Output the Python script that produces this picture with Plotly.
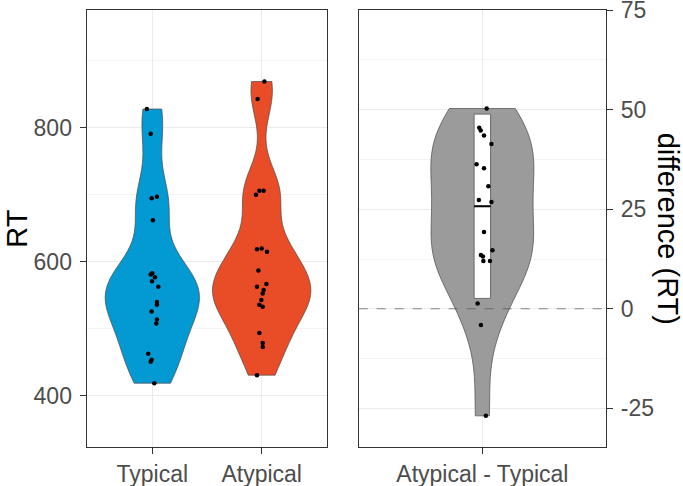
import numpy as np
import plotly.graph_objects as go

# ---------------- data ----------------
categories_left = ["Typical", "Atypical"]
category_right = ["Atypical - Typical"]

typical_rt = [828, 791, 697, 695, 662, 583, 581, 577, 571, 563,
              540, 536, 526, 514, 508, 463, 454, 451, 419]
typical_jitter = [-0.05, -0.015, 0.042, -0.006, 0.005, 0.0, -0.015, 0.024, -0.003, 0.055,
                  0.042, 0.042, -0.006, 0.042, 0.037, -0.037, -0.006, -0.015, 0.018]

atypical_rt = [869, 843, 706, 706, 700, 620, 619, 615, 587, 567,
               563, 558, 553, 543, 536, 533, 494, 479, 473, 431]
atypical_jitter = [0.025, -0.037, -0.021, 0.018, -0.052, 0.0, -0.043, 0.048, -0.030, 0.043,
                   -0.043, 0.018, 0.009, -0.003, -0.021, 0.009, -0.021, 0.009, 0.009, -0.043]

difference_rt = [50.3, 45.5, 44.8, 43.5, 41.4, 36.3, 35.3, 30.8, 27.3, 26.8,
                 19.3, 14.7, 13.5, 13.1, 12.0, 12.0, 1.3, -4.1, -26.9]
difference_jitter = [0.021, -0.015, -0.008, 0.008, 0.044, -0.028, 0.008, 0.029, -0.017, 0.044,
                     0.008, 0.049, -0.007, 0.003, 0.005, 0.037, -0.023, -0.007, 0.017]

# summary box drawn on the difference violin
diff_box_low = 2.6
diff_box_median = 25.75
diff_box_high = 48.9

left_ticks = [400, 600, 800]
right_ticks = [-25, 0, 25, 50, 75]
right_ticktext = ["-25", "0", "25", "50", "75"]
reference_value = 0

# ---------------- styling ----------------
BLUE = "#0399D3"
RED = "#E94D27"
GREY = "#9B9B9B"
OUTLINE = "#4a4a4a"
FONT = "Liberation Sans, Arial, sans-serif"

W, H = 683, 486
left_dom = [86.7 / W, 327.3 / W]
right_dom = [358.7 / W, 606.0 / W]
y_dom = [1 - 447.3 / H, 1 - 10.0 / H]


def nrd0(x):
    x = np.asarray(x, dtype=float)
    sd = np.std(x, ddof=1)
    q75, q25 = np.percentile(x, [75, 25])
    lo = min(sd, (q75 - q25) / 1.34)
    return 0.9 * lo * len(x) ** (-0.2)


def max_density(x, bw):
    x = np.asarray(x, dtype=float)
    grid = np.linspace(x.min(), x.max(), 512)
    d = np.exp(-0.5 * ((grid[:, None] - x[None, :]) / bw) ** 2).sum(axis=1)
    return d.max() / (len(x) * bw * np.sqrt(2 * np.pi))


bw_t = nrd0(typical_rt)
bw_a = nrd0(atypical_rt)
bw_d = nrd0(difference_rt)
md_t = max_density(typical_rt, bw_t)
md_a = max_density(atypical_rt, bw_a)
md_max = max(md_t, md_a)

fig = go.Figure()

for pos, vals, bw, md, col in [(1, typical_rt, bw_t, md_t, BLUE),
                               (2, atypical_rt, bw_a, md_a, RED)]:
    fig.add_trace(go.Violin(
        x0=pos, y=vals, xaxis="x", yaxis="y",
        fillcolor=col, line=dict(color=OUTLINE, width=0.7), opacity=1,
        bandwidth=bw, spanmode="hard", points=False,
        width=0.9 * md / md_max, scalemode="width",
        box_visible=False, meanline_visible=False, hoverinfo="skip",
    ))

fig.add_trace(go.Violin(
    x0=1, y=difference_rt, xaxis="x2", yaxis="y2",
    fillcolor=GREY, line=dict(color=OUTLINE, width=0.7), opacity=1,
    bandwidth=bw_d, spanmode="hard", points=False, width=0.5, scalemode="width",
    box_visible=False, meanline_visible=False, hoverinfo="skip",
))

box_w = 0.08
fig.add_trace(go.Box(
    x=[1], q1=[diff_box_low], median=[diff_box_median], q3=[diff_box_high],
    lowerfence=[diff_box_low], upperfence=[diff_box_high],
    xaxis="x2", yaxis="y2", width=box_w, whiskerwidth=0,
    fillcolor="white", line=dict(color="#6b6b6b", width=1), boxpoints=False,
    hoverinfo="skip",
))

# thicker median bar
fig.add_trace(go.Scatter(
    x=[1 - box_w / 2, 1 + box_w / 2], y=[diff_box_median] * 2, xaxis="x2", yaxis="y2",
    mode="lines", line=dict(color="black", width=2.2), hoverinfo="skip",
))

# jittered points
for pos, vals, jit, xa, ya in [(1, typical_rt, typical_jitter, "x", "y"),
                               (2, atypical_rt, atypical_jitter, "x", "y"),
                               (1, difference_rt, difference_jitter, "x2", "y2")]:
    fig.add_trace(go.Scatter(
        x=[pos + j for j in jit], y=vals, xaxis=xa, yaxis=ya, mode="markers",
        marker=dict(color="black", size=4.5), hoverinfo="skip",
    ))

# dashed reference line
fig.add_shape(type="line", xref="x2 domain", yref="y2", x0=0, x1=1,
              y0=reference_value, y1=reference_value,
              line=dict(color="#555555", width=0.7, dash="dash"))

axis_common = dict(
    showgrid=True, gridcolor="#EBEBEB", gridwidth=1.4,
    showline=True, linecolor="#333333", linewidth=1.3, mirror=True,
    ticks="outside", ticklen=6, tickcolor="#333333", tickwidth=1.2,
    zeroline=False, tickfont=dict(family=FONT, size=23, color="#4D4D4D"),
    automargin=False, ticklabeloverflow="allow",
)
xaxis_extra = dict(ticklabelstandoff=0)
yaxis_extra = dict(ticklabelstandoff=3)

fig.update_layout(
    width=W, height=H, margin=dict(l=0, r=0, t=0, b=0, autoexpand=False),
    paper_bgcolor="white", plot_bgcolor="white", showlegend=False,
    violinmode="overlay", boxmode="overlay",
    font=dict(family=FONT),
    xaxis=dict(domain=left_dom, anchor="y", range=[0.4, 2.6],
               tickmode="array", tickvals=[1, 2], ticktext=categories_left,
               **axis_common, **xaxis_extra),
    yaxis=dict(domain=y_dom, anchor="x", range=[323.4, 975.7],
               tickmode="array", tickvals=left_ticks,
               minor=dict(dtick=100, tick0=0, showgrid=True, gridcolor="#F3F3F3", gridwidth=1, ticks=""),
               **axis_common, **yaxis_extra),
    xaxis2=dict(domain=right_dom, anchor="y2", range=[0.4, 1.6],
                tickmode="array", tickvals=[1], ticktext=category_right,
                **axis_common, **xaxis_extra),
    yaxis2=dict(domain=y_dom, anchor="x2", side="right", range=[-34.8, 75.05],
                tickmode="array", tickvals=right_ticks, ticktext=right_ticktext,
                minor=dict(dtick=12.5, tick0=0, showgrid=True, gridcolor="#F3F3F3", gridwidth=1, ticks=""),
                **axis_common, **yaxis_extra),
    annotations=[
        dict(text="RT", x=17 / W, y=(y_dom[0] + y_dom[1]) / 2, xref="paper", yref="paper",
             textangle=-90, showarrow=False, xanchor="center", yanchor="middle",
             font=dict(family=FONT, size=29, color="black")),
        dict(text="difference (RT)", x=668 / W, y=(y_dom[0] + y_dom[1]) / 2,
             xref="paper", yref="paper", textangle=90, showarrow=False,
             xanchor="center", yanchor="middle",
             font=dict(family=FONT, size=29, color="black")),
    ],
)

fig.write_html("out.html", config={"displayModeBar": False},
               post_script="document.body.style.margin='0';document.body.style.overflow='hidden';")
